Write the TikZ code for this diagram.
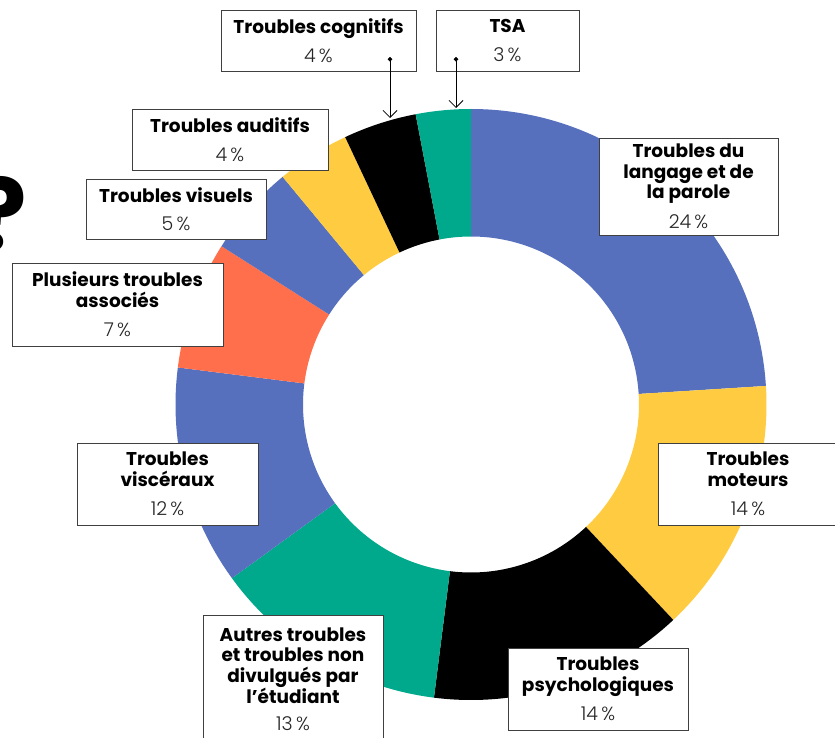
\documentclass[tikz,border=0pt]{standalone}
\usepackage{fontspec}
\setmainfont{Poppins}
\newfontfamily\pctfont{Poppins Light}
\usetikzlibrary{arrows.meta}

\definecolor{donutblue}{HTML}{5770BE}
\definecolor{donutyellow}{HTML}{FECB41}
\definecolor{donutgreen}{HTML}{00A98B}
\definecolor{donutorange}{HTML}{FF6F4C}
\newcommand{\pct}[1]{{\mdseries\pctfont\fontsize{19}{20.5}\selectfont\color{black!85}#1\,\%}}

\begin{document}
\begin{tikzpicture}[
    x=1pt, y=1pt,
    label box/.style={draw=black!75, fill=white, line width=0.8pt, align=center, inner sep=0pt,
      font=\fontsize{18.5}{20.5}\selectfont\bfseries},
    pointer/.style={line width=0.8pt, {Circle[length=4.5pt]}-{Straight Barb[length=7pt,width=14pt]}}
  ]

  \useasboundingbox (0,0) rectangle (835,-738);

  \begin{scope}
    \clip (0,0) rectangle (835,-738);

    \node[font=\fontsize{100}{100}\selectfont\bfseries, anchor=base, inner sep=0pt] (question) at (0,-250) {?};

    % donut
    \coordinate (centre) at (471,-404.5);
    \foreach \from/\to/\col in {90/3.6/donutblue, 3.6/-46.8/donutyellow, -46.8/-97.2/black,
        -97.2/-144/donutgreen, -144/-187.2/donutblue, -187.2/-212.4/donutorange,
        -212.4/-230.4/donutblue, -230.4/-244.8/donutyellow, -244.8/-259.2/black, -259.2/-270/donutgreen}
      \fill[\col] ([shift={(\from:295.5pt)}]centre) arc[start angle=\from, end angle=\to, radius=295.5pt]
        -- ([shift={(\to:168pt)}]centre) arc[start angle=\to, end angle=\from, radius=168pt] -- cycle;

    % labels
    \node[label box, minimum width=179pt, minimum height=97pt] (langage) at (688.5,-186.5)
      {Troubles du\\langage et de\\la parole\\[9pt]\pct{24}};
    \node[label box, minimum width=180pt, minimum height=82pt] (moteurs) at (748,-484)
      {Troubles\\moteurs\\[9pt]\pct{14}};
    \node[label box, minimum width=180pt, minimum height=82pt] (psycho) at (598,-689)
      {Troubles\\psychologiques\\[9pt]\pct{14}};
    \node[label box, minimum width=180pt, minimum height=128pt] (autres) at (293,-679)
      {Autres troubles\\et troubles non\\divulgués par\\l’étudiant\\[6pt]\pct{13}};
    \node[label box, minimum width=181pt, minimum height=82pt] (visceraux) at (167.5,-484)
      {Troubles\\viscéraux\\[9pt]\pct{12}};
    \node[label box, minimum width=211pt, minimum height=83pt] (plusieurs) at (117.5,-304.5)
      {Plusieurs troubles\\associés\\[9pt]\pct{7}};
    \node[label box, minimum width=180pt, minimum height=60pt] (visuels) at (176,-209)
      {Troubles visuels\\[8pt]\pct{5}};
    \node[label box, minimum width=196pt, minimum height=61pt] (auditifs) at (230,-139.5)
      {Troubles auditifs\\[8pt]\pct{4}};
    \node[label box, minimum width=195pt, minimum height=61pt] (cognitifs) at (318.5,-40.5)
      {Troubles cognitifs\\[8pt]\pct{4}};
    \node[label box, minimum width=143pt, minimum height=61pt] (tsa) at (507.5,-40.5)
      {TSA\\[8pt]\pct{3}};

    % pointers for the thin slices
    \coordinate (cogtip) at (390,-118);
    \coordinate (tsatip) at (456,-108);
    \draw[pointer] ([xshift=71.5pt, yshift=-16.5pt]cognitifs.center) -- (cogtip);
    \draw[pointer] ([xshift=-51.5pt, yshift=-16.5pt]tsa.center) -- (tsatip);
  \end{scope}

\end{tikzpicture}
\end{document}
